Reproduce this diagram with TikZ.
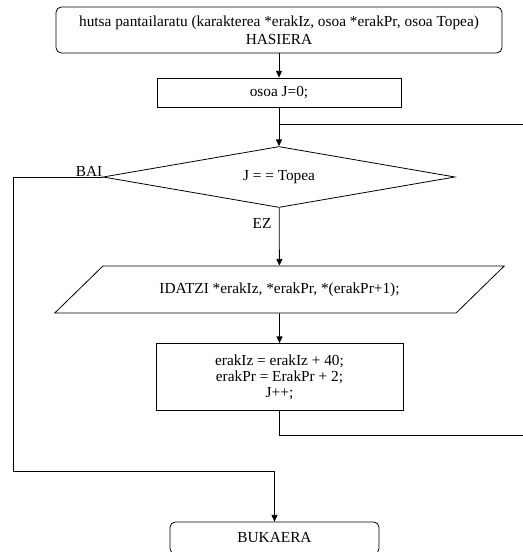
\documentclass[tikz,border=0pt]{standalone}
\usepackage{fontspec}
\setmainfont{Liberation Serif}
\usetikzlibrary{arrows.meta,positioning,shapes.geometric}
\tikzset{
  startstop/.style={draw,rounded corners=4pt,align=center,inner sep=0pt},
  procbox/.style={draw,align=center,inner sep=0pt},
  decision/.style={draw,diamond,aspect=5.77,inner sep=0pt},
  iobox/.style={draw,trapezium,trapezium left angle=23,trapezium right angle=157,trapezium stretches=true,inner sep=0pt},
  arr/.style={-{Triangle[length=5pt,width=4.5pt]}}
}
\begin{document}
\begin{tikzpicture}[x=0.75pt,y=-0.75pt,font=\fontsize{11.5}{13.5}\selectfont,line width=0.6pt]
\useasboundingbox (0,0) rectangle (523,552);
% boxes
\node[startstop,minimum width=334.5pt,minimum height=34.5pt] (start) at (279,30) {hutsa pantailaratu (karakterea *erakIz, osoa *erakPr, osoa Topea)\\HASIERA};
\node[procbox,minimum width=183pt,minimum height=21.75pt] (init) at (279,92.5) {osoa J=0;};
\node[decision,minimum width=264pt,minimum height=45.75pt] (cond) at (279,177) {J = = Topea};
\node[iobox,minimum width=338.25pt,minimum height=35.25pt] (out) at (279.5,289.5) {IDATZI *erakIz, *erakPr, *(erakPr+1);};
\node[procbox,minimum width=185.25pt,minimum height=50.25pt,font=\fontsize{11.5}{12}\selectfont] (upd) at (279.5,377) {erakIz = erakIz + 40;\\erakPr = ErakPr + 2;\\J++;};
\node[startstop,minimum width=156.75pt,minimum height=24pt] (fin) at (274.5,538) {BUKAERA};
% labels
\node (bai) at (89,171) {BAI};
\node (ez) at (262,223) {EZ};
% loop joints
\coordinate (join) at (279,124);
\coordinate (joinR) at (523,124);
\coordinate (backR) at (523,435);
\coordinate (baiL) at (13,471);
% connectors
\draw[arr] (start) -- (init);
\draw[arr] (init) -- (cond);
\draw (join) -- (joinR);
\draw[arr] (cond) -- (out);
\draw[arr] (out) -- (upd);
\draw (upd) |- (backR);
\draw[arr] (cond.west) -| (baiL) -| (fin.north);
\end{tikzpicture}
\end{document}
